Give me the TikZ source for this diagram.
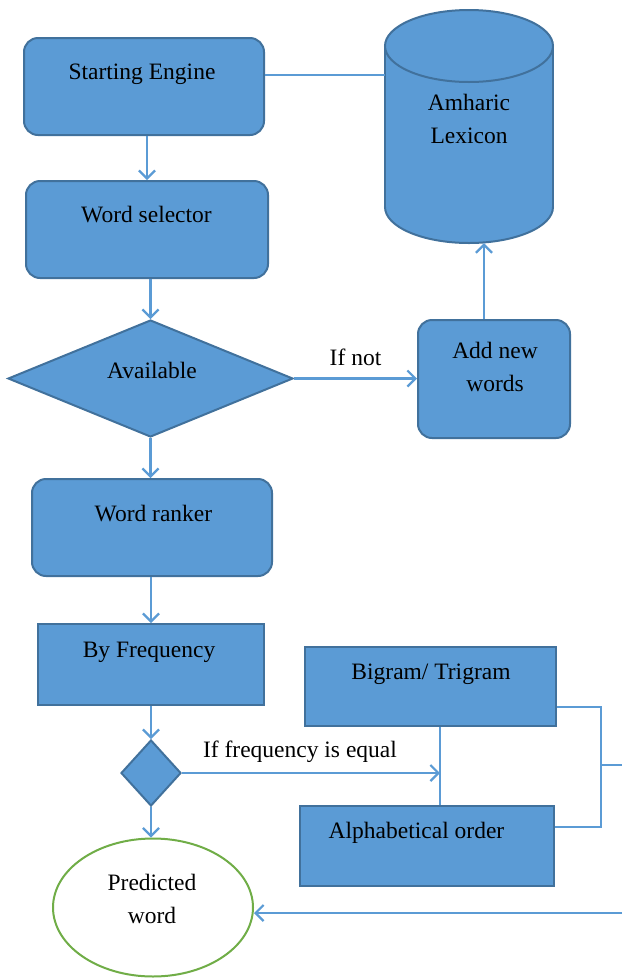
\documentclass[tikz,border=0pt]{standalone}
\usepackage{fontspec}
\setmainfont{Liberation Serif}
\usetikzlibrary{arrows.meta,shapes.geometric}
\definecolor{boxfill}{HTML}{5B9BD5}
\definecolor{boxline}{HTML}{41719C}
\definecolor{connc}{HTML}{5B9BD5}
\definecolor{ellline}{HTML}{70AD47}
\begin{document}
\begin{tikzpicture}[x=1pt,y=-1pt,
 rbox/.style={draw=boxline,fill=boxfill,line width=2pt,rounded corners=14pt,inner sep=0pt},
 sbox/.style={draw=boxline,fill=boxfill,line width=2pt,inner sep=0pt},
 dbox/.style={diamond,draw=boxline,fill=boxfill,line width=2pt,inner sep=0pt},
 txt/.style={font=\fontsize{23.5}{33}\selectfont,inner sep=0pt,align=center},
 conn/.style={draw=connc,line width=2.2pt},
 arr/.style={conn,-{Straight Barb[length=8pt,width=16pt]}},
]
\useasboundingbox (0,0) rectangle (622,978);

% cylinder (Amharic Lexicon)
\filldraw[fill=boxfill,draw=boxline,line width=2pt] (469,207) ellipse [x radius=84,y radius=36];
\fill[boxfill] (385,46) rectangle (553,207);
\draw[boxline,line width=2pt] (385,46) -- (385,207) (553,46) -- (553,207);
\filldraw[fill=boxfill,draw=boxline,line width=2pt] (469,46) ellipse [x radius=84,y radius=36];
\node[minimum width=168,minimum height=233,inner sep=0pt] (lex) at (469,126.5) {};
\node[txt] (lext) at (469,118.5) {Amharic\\Lexicon};

% boxes
\node[rbox,minimum width=240,minimum height=97] (se) at (144,86.5) {};
\node[txt] (set) at (142,74) {Starting Engine};
\node[rbox,minimum width=242,minimum height=97] (ws) at (147,229.5) {};
\node[txt] (wst) at (146.5,215) {Word selector};
\node[dbox,minimum width=285,minimum height=117] (av) at (150.5,378.5) {};
\node[txt] (avt) at (152,370) {Available};
\node[rbox,minimum width=152,minimum height=118] (add) at (494,379) {};
\node[txt] (addt) at (495,367) {Add new\\words};
\node[rbox,minimum width=240,minimum height=97] (wr) at (152,527.5) {};
\node[txt] (wrt) at (153.5,514) {Word ranker};
\node[sbox,minimum width=226,minimum height=81] (bf) at (151,664.5) {};
\node[txt] (bft) at (149,652) {By Frequency};
\node[dbox,minimum width=60,minimum height=66] (d2) at (151,773) {};
\node[sbox,minimum width=251,minimum height=79] (bg) at (430.5,686.5) {};
\node[txt] (bgt) at (431,674) {Bigram/ Trigram};
\node[sbox,minimum width=254,minimum height=80] (al) at (427,846) {};
\node[txt] (alt) at (416.5,833) {Alphabetical order};
\node[ellipse,draw=ellline,fill=white,line width=2pt,minimum width=200,minimum height=138,inner sep=0pt] (pw) at (153,907.5) {};
\node[txt] (pwt) at (152,898.5) {Predicted\\word};

% connectors
\draw[conn] ([yshift=11.5pt]se.east) -- ([yshift=11.5pt]se.east -| lex.west);
\draw[arr] (se.south -| ws.north) -- (ws.north);
\draw[arr] (ws.south -| av.north) -- (av.north);
\draw[arr] (av.east) -- (av.east -| add.west) node[txt,midway,above=12pt] (ifnot) {If not};
\draw[arr] ([xshift=-10pt]add.north) -- ([xshift=-10pt]add.north |- lex.south);
\draw[arr] (av.south) -- (av.south |- wr.north);
\draw[arr] (wr.south -| bf.north) -- (bf.north);
\draw[arr] (bf.south) -- (d2.north);
\coordinate (mid) at (440,773);
\draw[conn] (bg.south -| mid) -- (al.north -| mid);
\draw[arr] (d2.east) -- (mid);
\node[txt] (ifeq) at (300,752) {If frequency is equal};
\draw[arr] (d2.south) -- (d2.south |- pw.north);
\coordinate (bk) at (601,765);
\coordinate (rout) at (622,765);
\coordinate (rin) at (622,913);
\draw[conn] ([yshift=-20.5pt]bg.east) -- ([yshift=-20.5pt]bg.east -| bk) -- ([yshift=19pt]al.east -| bk) -- ([yshift=19pt]al.east);
\draw[conn] (bk) -- (rout);
\draw[arr] (rin) -- (rin -| pw.east);
\end{tikzpicture}
\end{document}
